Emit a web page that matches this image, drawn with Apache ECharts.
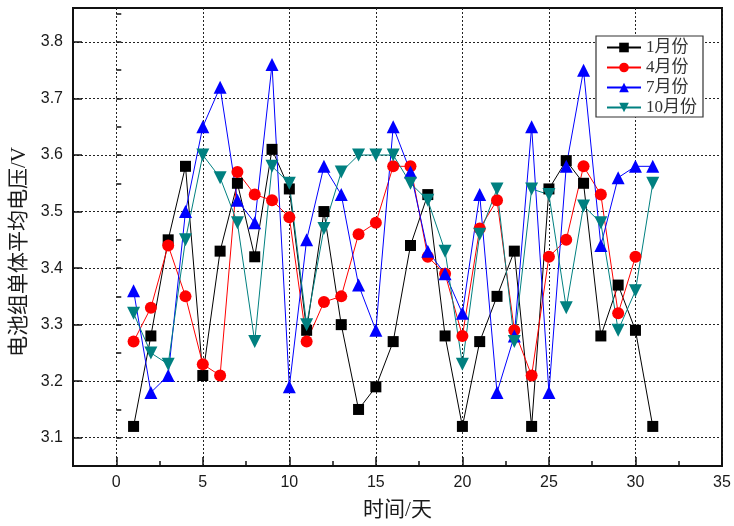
<!DOCTYPE html>
<html>
<head>
<meta charset="utf-8">
<script src="https://cdn.jsdelivr.net/npm/echarts@6/dist/echarts.min.js"></script>
<style>
  html, body { margin: 0; padding: 0; background: #fff; }
  #chart { width: 734px; height: 526px; }
</style>
</head>
<body>
<div id="chart"></div>
<script>
// Days of the month (x) and average single-cell voltage per month (V)
const days = [1,2,3,4,5,6,7,8,9,10,11,12,13,14,15,16,17,18,19,20,21,22,23,24,25,26,27,28,29,30,31];
const jan = [3.12,3.28,3.45,3.58,3.21,3.43,3.55,3.42,3.61,3.54,3.29,3.50,3.30,3.15,3.19,3.27,3.44,3.53,3.28,3.12,3.27,3.35,3.43,3.12,3.54,3.59,3.55,3.28,3.37,3.29,3.12];
const apr = [3.27,3.33,3.44,3.35,3.23,3.21,3.57,3.53,3.52,3.49,3.27,3.34,3.35,3.46,3.48,3.58,3.58,3.42,3.39,3.28,3.47,3.52,3.29,3.21,3.42,3.45,3.58,3.53,3.32,3.42];
const jul = [3.36,3.18,3.21,3.50,3.65,3.72,3.52,3.48,3.76,3.19,3.45,3.58,3.53,3.37,3.29,3.65,3.57,3.43,3.39,3.32,3.53,3.18,3.28,3.65,3.18,3.58,3.75,3.44,3.56,3.58,3.58];
const oct = [3.32,3.25,3.23,3.45,3.60,3.56,3.48,3.27,3.58,3.55,3.30,3.47,3.57,3.60,3.60,3.60,3.55,3.52,3.43,3.23,3.46,3.54,3.27,3.54,3.53,3.33,3.51,3.48,3.29,3.36,3.55];

const seriesNames = ['1月份', '4月份', '7月份', '10月份'];
const xTickLabels = [0, 5, 10, 15, 20, 25, 30, 35];
const yTickLabels = [3.1, 3.2, 3.3, 3.4, 3.5, 3.6, 3.7, 3.8];

const pairs = vals => vals.map((v, i) => [days[i], v]);

const axisFont = { fontFamily: 'Liberation Sans, Arial, sans-serif', fontSize: 16, color: '#1a1a1a' };
const nameFont = { fontFamily: '"Liberation Serif", "Noto Sans CJK SC", serif', fontSize: 21, color: '#1a1a1a' };
const gridLine = { show: true, lineStyle: { color: '#222', width: 1, type: [2, 2] } };

function lineSeries(name, vals, color, symbol, size, rotate) {
  return {
    name, type: 'line', data: pairs(vals),
    xAxisIndex: 0, yAxisIndex: 0,
    symbol, symbolSize: size, symbolRotate: rotate || 0,
    showAllSymbol: true,
    lineStyle: { color, width: 1 },
    itemStyle: { color, borderWidth: 0 },
    emphasis: { disabled: true },
    animation: false
  };
}

const chart = echarts.init(document.getElementById('chart'));
chart.setOption({
  animation: false,
  grid: {
    left: 73, right: 12, top: 8, bottom: 59,
    show: true, borderColor: '#111', borderWidth: 2, backgroundColor: 'transparent'
  },
  legend: {
    orient: 'vertical',
    left: 596, top: 36,
    data: seriesNames,
    backgroundColor: '#fff',
    borderColor: '#333', borderWidth: 1.2,
    padding: [3, 6, 1, 10],
    itemWidth: 34, itemHeight: 12, itemGap: 3,
    textStyle: { fontFamily: '"Liberation Serif", "Noto Sans CJK SC", serif', fontSize: 17, color: '#333', lineHeight: 16 },
    selectedMode: false
  },
  xAxis: [
    {
      type: 'value', min: -2.5, max: 35, interval: 2.5,
      name: '时间/天', nameLocation: 'middle', nameGap: 34, nameTextStyle: nameFont,
      axisLine: { show: true, onZero: false, lineStyle: { color: '#111', width: 2 } },
      axisTick: { show: true, inside: true, length: 9, customValues: xTickLabels, lineStyle: { color: '#111', width: 1.5 } },
      axisLabel: Object.assign({ margin: 9, customValues: xTickLabels }, axisFont),
      splitLine: gridLine
    },
    {
      type: 'value', min: -2.5, max: 35, interval: 2.5, position: 'bottom',
      axisLine: { show: false },
      axisTick: { show: true, inside: true, length: 5, lineStyle: { color: '#111', width: 1.5 } },
      axisLabel: { show: false },
      splitLine: { show: false }
    }
  ],
  yAxis: [
    {
      type: 'value', min: 3.05, max: 3.86, interval: 0.05,
      name: '电池组单体平均电压/V', nameLocation: 'middle', nameGap: 42, nameRotate: 90,
      nameTextStyle: Object.assign({ padding: [0, 30, 0, 0] }, nameFont),
      axisLine: { show: true, onZero: false, lineStyle: { color: '#111', width: 2 } },
      axisTick: { show: true, inside: true, length: 9, customValues: yTickLabels, lineStyle: { color: '#111', width: 1.5 } },
      axisLabel: Object.assign({ margin: 10, customValues: yTickLabels, formatter: v => v.toFixed(1) }, axisFont),
      splitLine: gridLine
    },
    {
      type: 'value', min: 3.05, max: 3.86, interval: 0.05, position: 'left',
      axisLine: { show: false },
      axisTick: { show: true, inside: true, length: 5, lineStyle: { color: '#111', width: 1.5 } },
      axisLabel: { show: false },
      splitLine: { show: false }
    }
  ],
  series: [
    lineSeries(seriesNames[0], jan, '#000000', 'rect', 11),
    lineSeries(seriesNames[1], apr, '#ff0000', 'circle', 12),
    lineSeries(seriesNames[2], jul, '#0000ff', 'triangle', 13),
    lineSeries(seriesNames[3], oct, '#008080', 'triangle', 13, 180)
  ]
});
</script>
</body>
</html>
